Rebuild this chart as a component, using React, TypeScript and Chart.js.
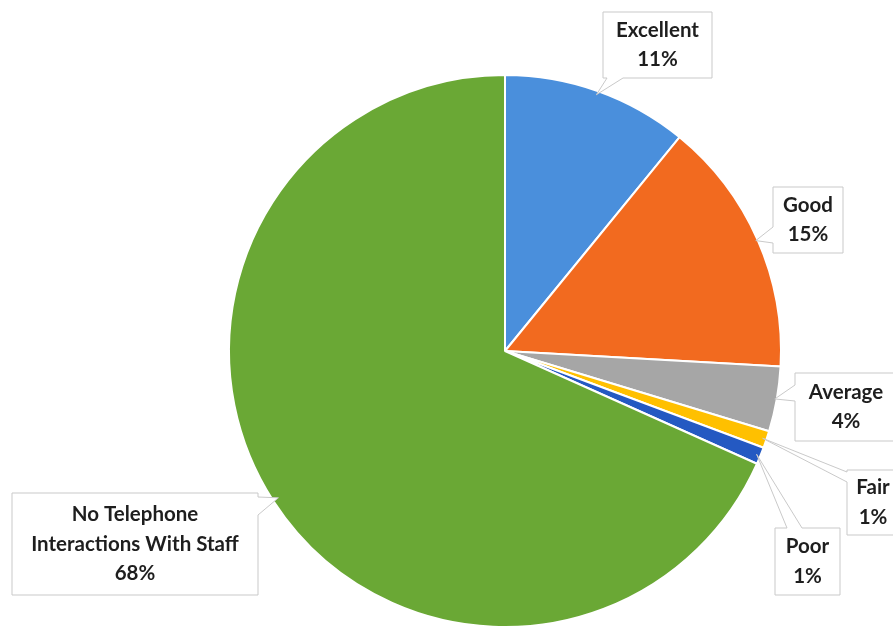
import React, { useEffect, useRef } from "react";
import { Chart, registerables } from "chart.js";

Chart.register(...registerables);

const categories = ["Excellent", "Good", "Average", "Fair", "Poor", "No Telephone Interactions With Staff"];
const values = [10.9, 15.0, 3.8, 1.0, 1.0, 68.3];
const percentLabels = ["11%", "15%", "4%", "1%", "1%", "68%"];
const labelLines = [["Excellent"], ["Good"], ["Average"], ["Fair"], ["Poor"], ["No Telephone", "Interactions With Staff"]];
const colors = ["#4a8fdc", "#f26a1f", "#a6a6a6", "#ffc000", "#2459c2", "#6aa835"];

// callout box layout (positions / style only)
const calloutLayout = [
  { x: 603, y: 12, w: 109, h: 66, side: "bottom", b1: 4, b2: 20, inset: 4 },
  { x: 773, y: 187, w: 70, h: 66, side: "left", b1: 40, b2: 56, inset: 2 },
  { x: 795, y: 373, w: 102, h: 68, side: "left", b1: 12, b2: 28, inset: 2 },
  { x: 847, y: 470, w: 52, h: 65, side: "left", b1: 2, b2: 12, inset: 4 },
  { x: 775, y: 528, w: 65, h: 67, side: "top", b1: 12, b2: 27, inset: 4 },
  { x: 12, y: 493, w: 246, h: 102, side: "right", b1: 4, b2: 22, inset: 6 },
];

const FONT = "bold 20.5px Lato, 'Open Sans', sans-serif";
const LINE_H = 29.5;

const calloutPlugin = {
  id: "callouts",
  afterDraw(chart: any) {
    const ctx = chart.ctx as CanvasRenderingContext2D;
    const meta = chart.getDatasetMeta(0);
    meta.data.forEach((arc: any, i: number) => {
      const L = calloutLayout[i];
      if (!L) return;
      const p = arc.getProps(["x", "y", "startAngle", "endAngle", "outerRadius"], true);
      const mid = (p.startAngle + p.endAngle) / 2;
      const r = p.outerRadius - L.inset;
      const tx = p.x + Math.cos(mid) * r;
      const ty = p.y + Math.sin(mid) * r;
      const { x, y, w, h, side, b1, b2 } = L;
      ctx.save();
      ctx.beginPath();
      ctx.moveTo(x, y);
      if (side === "top") {
        ctx.lineTo(x + b1, y);
        ctx.lineTo(tx, ty);
        ctx.lineTo(x + b2, y);
      }
      ctx.lineTo(x + w, y);
      if (side === "right") {
        ctx.lineTo(x + w, y + b1);
        ctx.lineTo(tx, ty);
        ctx.lineTo(x + w, y + b2);
      }
      ctx.lineTo(x + w, y + h);
      if (side === "bottom") {
        ctx.lineTo(x + b2, y + h);
        ctx.lineTo(tx, ty);
        ctx.lineTo(x + b1, y + h);
      }
      ctx.lineTo(x, y + h);
      if (side === "left") {
        ctx.lineTo(x, y + b2);
        ctx.lineTo(tx, ty);
        ctx.lineTo(x, y + b1);
      }
      ctx.closePath();
      ctx.fillStyle = "#ffffff";
      ctx.fill();
      ctx.strokeStyle = "#c9c9c9";
      ctx.lineWidth = 1;
      ctx.stroke();

      const lines = [...labelLines[i], percentLabels[i]];
      ctx.font = FONT;
      ctx.fillStyle = "#1e1e1e";
      ctx.textAlign = "center";
      ctx.textBaseline = "middle";
      const cx = x + w / 2;
      const cy = y + h / 2;
      const start = cy - ((lines.length - 1) * LINE_H) / 2;
      lines.forEach((t, k) => ctx.fillText(t, cx, start + k * LINE_H));
      ctx.restore();
    });
  },
};

export default function App() {
  const ref = useRef<HTMLCanvasElement | null>(null);
  useEffect(() => {
    if (!ref.current) return;
    const chart = new Chart(ref.current, {
      type: "pie",
      data: {
        labels: categories,
        datasets: [
          {
            data: values,
            backgroundColor: colors,
            borderColor: "#ffffff",
            borderWidth: 2,
          },
        ],
      },
      options: {
        responsive: false,
        animation: false,
        layout: { padding: { top: 74, bottom: 3, left: 228, right: 111 } },
        plugins: {
          legend: { display: false },
          tooltip: { enabled: false },
        },
      },
      plugins: [calloutPlugin],
    });
    return () => chart.destroy();
  }, []);
  return (
    <div style={{ position: "fixed", left: 0, top: 0, width: 893, height: 631, background: "#fff" }}>
      <canvas ref={ref} width={893} height={631} />
    </div>
  );
}
